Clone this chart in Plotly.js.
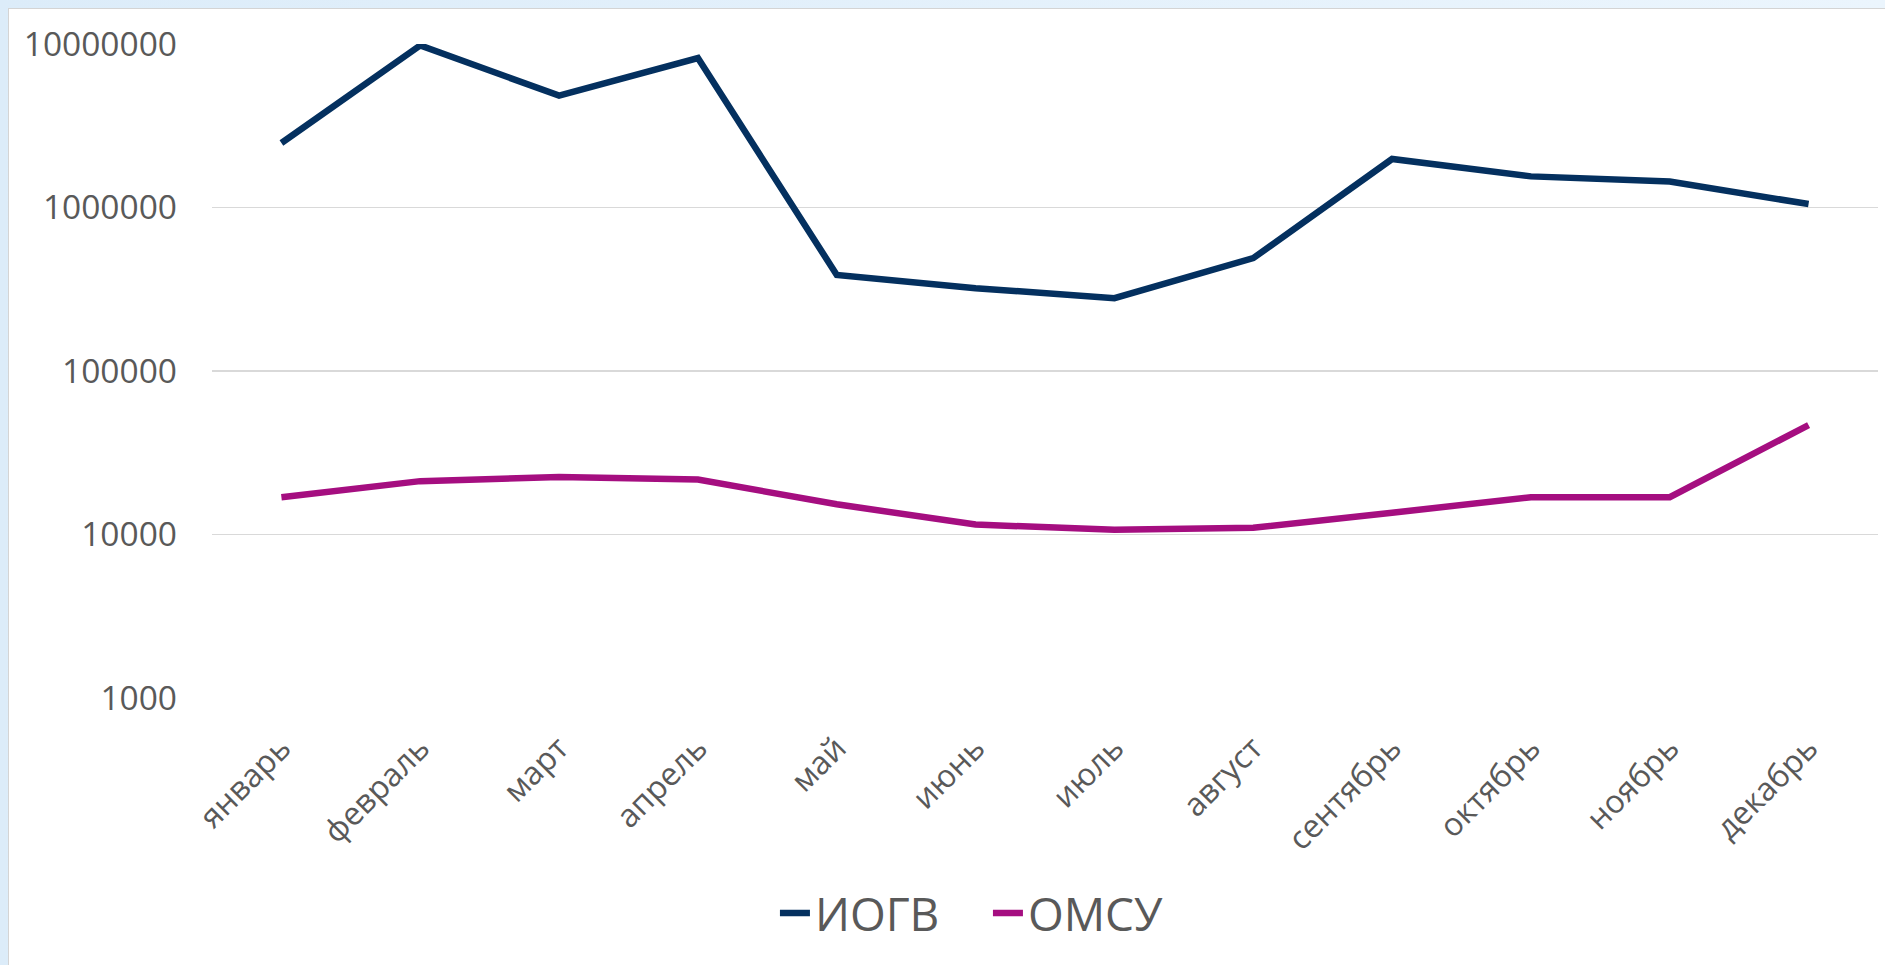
<!DOCTYPE html>
<html><head><meta charset="utf-8">
<script src="https://cdn.plot.ly/plotly-3.0.1.min.js"></script>
<style>
html,body{margin:0;padding:0;width:1885px;height:965px;overflow:hidden;background:linear-gradient(90deg,#dcecf9,#ebf5fd);}
#frame{position:absolute;left:8px;top:8px;width:1877px;height:957px;background:#fff;border-left:1px solid #d4d4d4;border-top:1px solid #d4d4d4;box-sizing:border-box;}
#chart{width:1876px;height:956px;}
</style></head>
<body>
<div id="frame"><div id="chart"></div></div>
<script>
const months = ["январь","февраль","март","апрель","май","июнь","июль","август","сентябрь","октябрь","ноябрь","декабрь"];
const iogv = [2480000, 9800000, 4830000, 8200000, 387000, 321000, 279000, 490000, 1980000, 1550000, 1440000, 1050000];
const omsu = [16900, 21200, 22500, 21700, 15300, 11500, 10700, 11000, 13600, 16900, 16900, 46700];
const yTickVals = [1000, 10000, 100000, 1000000, 10000000];
const yTickText = ["1000","10000","100000","1000000","10000000"];

const font = "'Open Sans', 'Liberation Sans', sans-serif";
const traces = [
  {x: months, y: iogv, name: "ИОГВ", type: "scatter", mode: "lines",
   line: {color: "#04305f", width: 6.5}, cliponaxis: false},
  {x: months, y: omsu, name: "ОМСУ", type: "scatter", mode: "lines",
   line: {color: "#a50e80", width: 6.5}, cliponaxis: false}
];
const layout = {
  width: 1876, height: 956,
  margin: {l: 203, r: 7, t: 35, b: 267},
  paper_bgcolor: "#ffffff", plot_bgcolor: "#ffffff",
  font: {family: font, color: "#595959"},
  showlegend: true,
  legend: {orientation: "h", x: 0.3379, xanchor: "left", y: -0.329, yanchor: "middle",
           font: {size: 46, color: "#595959", family: font}, itemwidth: 30,
           entrywidth: 168, entrywidthmode: "pixels"},
  xaxis: {type: "category", range: [-0.5, 11.5], tickangle: -45, showgrid: false,
          showline: false, zeroline: false, ticks: "", ticklabelstandoff: 24,
          tickfont: {size: 32, color: "#595959", family: font}},
  yaxis: {type: "log", range: [3, 7], tickvals: yTickVals, ticktext: yTickText,
          showgrid: true, gridcolor: "#d9d9d9", gridwidth: 1.3, showline: false, zeroline: false,
          ticks: "", ticklabelstandoff: 34,
          tickfont: {size: 33.5, color: "#595959", family: font}}
};
Plotly.newPlot("chart", traces, layout, {displayModeBar: false, staticPlot: true});
</script>
</body></html>
